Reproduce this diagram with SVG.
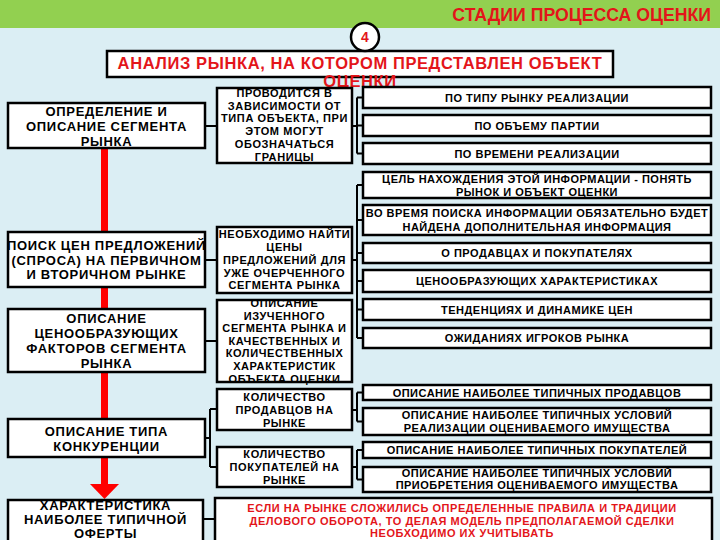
<svg xmlns="http://www.w3.org/2000/svg" width="720" height="540" viewBox="0 0 720 540">
<style>
.box{fill:#fff;stroke:#000;stroke-width:2.5}
.c{stroke:#000;stroke-width:2;fill:none}
text{font-family:"Liberation Sans",Arial,sans-serif;font-weight:bold;text-anchor:middle}
.l{font-size:13px;letter-spacing:0.7px;fill:#000}
.m{font-size:11px;letter-spacing:0.6px;fill:#000}
.s{font-size:11px;letter-spacing:0.5px;fill:#000}
.r{font-size:11px;letter-spacing:0.55px;fill:#e3151a}
.h{font-size:17.7px;fill:#e3151a}
.hh{font-size:16.5px;letter-spacing:0.6px;fill:#e3151a}
</style>
<rect x="0" y="0" width="720" height="540" fill="#dbeef4"/>
<rect x="0" y="0" width="720" height="28" fill="#92d050"/>
<text x="711" y="21" class="h" style="text-anchor:end">СТАДИИ ПРОЦЕССА ОЦЕНКИ</text>

<g id="header">
<rect class="box" x="107" y="51" width="506" height="26"/>
<text class="hh" x="360" y="69">АНАЛИЗ РЫНКА, НА КОТОРОМ ПРЕДСТАВЛЕН ОБЪЕКТ</text>
<text class="hh" x="360" y="87">ОЦЕНКИ</text>
</g>
<g id="step">
<circle cx="365" cy="37" r="14" fill="#fff" stroke="#000" stroke-width="2.5"/>
<text x="365" y="42" style="font-size:14px;fill:#e3151a">4</text>
</g>

<g id="flow">
<rect x="101" y="148" width="7" height="337" fill="#f00"/>
<polygon points="90,484 119,484 104.5,499" fill="#f00"/>
</g>

<g id="connectors">
<path class="c" d="M205 126H217 M352 126H357 M357 97.5V153.5 M357 97.5H363 M357 125.5H363 M357 153.5H363"/>
<path class="c" d="M205 260H217 M352 260H357 M357 185V338 M357 185H363 M357 220H363 M357 253H363 M357 281H363 M357 309.5H363 M357 338H363"/>
<path class="c" d="M205 341H217"/>
<path class="c" d="M205 438H210 M210 409V467 M210 409H217 M210 467H217"/>
<path class="c" d="M352 410H357 M357 392.5V421.5 M357 392.5H363 M357 421.5H363"/>
<path class="c" d="M352 467H357 M357 450V479.5 M357 450H363 M357 479.5H363"/>
<path class="c" d="M203 519H215"/>
</g>

<g id="n1"><rect class="box" x="8" y="103" width="197" height="45"/>
<text class="l" x="106.5" y="115.5">ОПРЕДЕЛЕНИЕ И</text><text class="l" x="106.5" y="130.5">ОПИСАНИЕ СЕГМЕНТА</text><text class="l" x="106.5" y="145.5">РЫНКА</text></g>
<g id="n2"><rect class="box" x="8" y="232" width="197" height="55"/>
<text class="l" x="106.5" y="249.5">ПОИСК ЦЕН ПРЕДЛОЖЕНИЙ</text><text class="l" x="106.5" y="264.5">(СПРОСА) НА ПЕРВИЧНОМ</text><text class="l" x="106.5" y="278.5">И ВТОРИЧНОМ РЫНКЕ</text></g>
<g id="n3"><rect class="box" x="8" y="309" width="197" height="63"/>
<text class="l" x="106.5" y="322.5">ОПИСАНИЕ</text><text class="l" x="106.5" y="337.5">ЦЕНООБРАЗУЮЩИХ</text><text class="l" x="106.5" y="352.5">ФАКТОРОВ СЕГМЕНТА</text><text class="l" x="106.5" y="367.5">РЫНКА</text></g>
<g id="n4"><rect class="box" x="8" y="419" width="197" height="38"/>
<text class="l" x="106.5" y="435.5">ОПИСАНИЕ ТИПА</text><text class="l" x="106.5" y="450.5">КОНКУРЕНЦИИ</text></g>
<g id="n5"><rect class="box" x="8" y="500" width="195" height="48"/>
<text class="l" x="105.5" y="509.5">ХАРАКТЕРИСТИКА</text><text class="l" x="105.5" y="523.5">НАИБОЛЕЕ ТИПИЧНОЙ</text><text class="l" x="105.5" y="537.5">ОФЕРТЫ</text></g>

<g id="a"><rect class="box" x="217" y="88" width="135" height="75"/>
<text class="m" x="284.5" y="97">ПРОВОДИТСЯ В</text><text class="m" x="284.5" y="109.5">ЗАВИСИМОСТИ ОТ</text><text class="m" x="284.5" y="122">ТИПА ОБЪЕКТА, ПРИ</text><text class="m" x="284.5" y="135">ЭТОМ МОГУТ</text><text class="m" x="284.5" y="148">ОБОЗНАЧАТЬСЯ</text><text class="m" x="284.5" y="161">ГРАНИЦЫ</text></g>
<g id="b"><rect class="box" x="217" y="227" width="135" height="66"/>
<text class="m" x="284.5" y="238">НЕОБХОДИМО НАЙТИ</text><text class="m" x="284.5" y="251">ЦЕНЫ</text><text class="m" x="284.5" y="264">ПРЕДЛОЖЕНИЙ ДЛЯ</text><text class="m" x="284.5" y="276.5">УЖЕ ОЧЕРЧЕННОГО</text><text class="m" x="284.5" y="289">СЕГМЕНТА РЫНКА</text></g>
<g id="c"><rect class="box" x="217" y="300" width="135" height="82"/>
<text class="m" x="284.5" y="307">ОПИСАНИЕ</text><text class="m" x="284.5" y="319.5">ИЗУЧЕННОГО</text><text class="m" x="284.5" y="332">СЕГМЕНТА РЫНКА И</text><text class="m" x="284.5" y="344.5">КАЧЕСТВЕННЫХ И</text><text class="m" x="284.5" y="357">КОЛИЧЕСТВЕННЫХ</text><text class="m" x="284.5" y="370">ХАРАКТЕРИСТИК</text><text class="m" x="284.5" y="383">ОБЪЕКТА ОЦЕНКИ</text></g>
<g id="d"><rect class="box" x="217" y="389" width="135" height="41"/>
<text class="m" x="284.5" y="401">КОЛИЧЕСТВО</text><text class="m" x="284.5" y="414">ПРОДАВЦОВ НА</text><text class="m" x="284.5" y="427">РЫНКЕ</text></g>
<g id="e"><rect class="box" x="217" y="447" width="135" height="40"/>
<text class="m" x="284.5" y="458">КОЛИЧЕСТВО</text><text class="m" x="284.5" y="471">ПОКУПАТЕЛЕЙ НА</text><text class="m" x="284.5" y="484">РЫНКЕ</text></g>
<g id="f"><rect class="box" x="215" y="498" width="497" height="50"/>
<text class="r" x="462" y="512">ЕСЛИ НА РЫНКЕ СЛОЖИЛИСЬ ОПРЕДЕЛЕННЫЕ ПРАВИЛА И ТРАДИЦИИ</text><text class="r" x="462" y="524.5">ДЕЛОВОГО ОБОРОТА, ТО ДЕЛАЯ МОДЕЛЬ ПРЕДПОЛАГАЕМОЙ СДЕЛКИ</text><text class="r" x="462" y="537">НЕОБХОДИМО ИХ УЧИТЫВАТЬ</text></g>

<g id="r1"><rect class="box" x="363" y="87" width="348" height="21"/><text class="s" x="537" y="101.5">ПО ТИПУ РЫНКУ РЕАЛИЗАЦИИ</text></g>
<g id="r2"><rect class="box" x="363" y="115" width="348" height="21"/><text class="s" x="537" y="129.5">ПО ОБЪЕМУ ПАРТИИ</text></g>
<g id="r3"><rect class="box" x="363" y="143" width="348" height="21"/><text class="s" x="537" y="157.5">ПО ВРЕМЕНИ РЕАЛИЗАЦИИ</text></g>
<g id="r4"><rect class="box" x="363" y="172" width="348" height="26"/><text class="s" x="537" y="183">ЦЕЛЬ НАХОЖДЕНИЯ ЭТОЙ ИНФОРМАЦИИ - ПОНЯТЬ</text><text class="s" x="537" y="196">РЫНОК И ОБЪЕКТ ОЦЕНКИ</text></g>
<g id="r5"><rect class="box" x="363" y="205" width="348" height="30"/><text class="s" x="537" y="217">ВО ВРЕМЯ ПОИСКА ИНФОРМАЦИИ ОБЯЗАТЕЛЬНО БУДЕТ</text><text class="s" x="537" y="231">НАЙДЕНА ДОПОЛНИТЕЛЬНАЯ ИНФОРМАЦИЯ</text></g>
<g id="r6"><rect class="box" x="363" y="243" width="348" height="20"/><text class="s" x="537" y="257">О ПРОДАВЦАХ И ПОКУПАТЕЛЯХ</text></g>
<g id="r7"><rect class="box" x="363" y="270" width="348" height="22"/><text class="s" x="537" y="285">ЦЕНООБРАЗУЮЩИХ ХАРАКТЕРИСТИКАХ</text></g>
<g id="r8"><rect class="box" x="363" y="299" width="348" height="21"/><text class="s" x="537" y="313.5">ТЕНДЕНЦИЯХ И ДИНАМИКЕ ЦЕН</text></g>
<g id="r9"><rect class="box" x="363" y="328" width="348" height="20"/><text class="s" x="537" y="342">ОЖИДАНИЯХ ИГРОКОВ РЫНКА</text></g>
<g id="r10"><rect class="box" x="363" y="385" width="348" height="15"/><text class="s" x="537" y="396.5">ОПИСАНИЕ НАИБОЛЕЕ ТИПИЧНЫХ ПРОДАВЦОВ</text></g>
<g id="r11"><rect class="box" x="363" y="408" width="348" height="27"/><text class="s" x="537" y="419">ОПИСАНИЕ НАИБОЛЕЕ ТИПИЧНЫХ УСЛОВИЙ</text><text class="s" x="537" y="432">РЕАЛИЗАЦИИ ОЦЕНИВАЕМОГО ИМУЩЕСТВА</text></g>
<g id="r12"><rect class="box" x="363" y="442" width="348" height="16"/><text class="s" x="537" y="454">ОПИСАНИЕ НАИБОЛЕЕ ТИПИЧНЫХ ПОКУПАТЕЛЕЙ</text></g>
<g id="r13"><rect class="box" x="363" y="467" width="348" height="25"/><text class="s" x="537" y="477">ОПИСАНИЕ НАИБОЛЕЕ ТИПИЧНЫХ УСЛОВИЙ</text><text class="s" x="537" y="488.5">ПРИОБРЕТЕНИЯ ОЦЕНИВАЕМОГО ИМУЩЕСТВА</text></g>
</svg>
